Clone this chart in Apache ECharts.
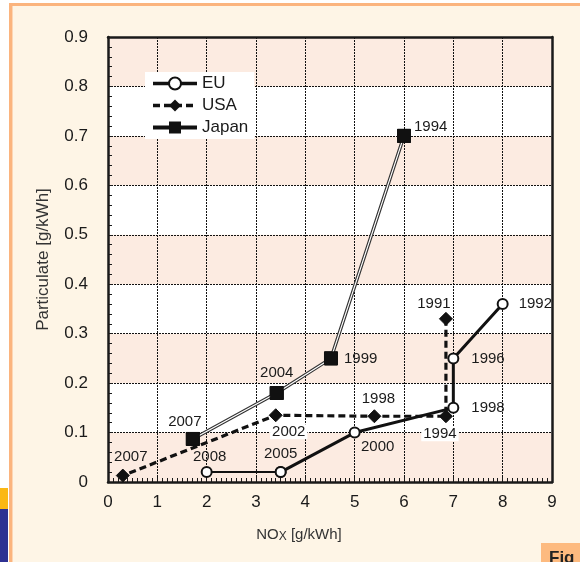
<!DOCTYPE html>
<html>
<head>
<meta charset="utf-8">
<script src="https://cdn.jsdelivr.net/npm/echarts@6/dist/echarts.min.js"></script>
<style>
html,body{margin:0;padding:0;background:#ffffff;}
#chart{width:580px;height:562px;}
</style>
</head>
<body>
<div id="chart"></div>
<script>
// ---- data ----
const euNox = [8, 7, 7, 5, 3.5, 2];
const euPm = [0.36, 0.25, 0.15, 0.10, 0.02, 0.02];
const euYears = ['1992', '1996', '1998', '2000', '2005', '2008'];

const usaNox = [6.85, 6.85, 5.4, 3.4, 0.3];
const usaPm = [0.33, 0.133, 0.133, 0.135, 0.013];
const usaYears = ['1991', '1994', '1998', '2002', '2007'];

const jpNox = [6.0, 4.52, 3.42, 1.72];
const jpPm = [0.70, 0.25, 0.18, 0.087];
const jpYears = ['1994', '1999', '2004', '2007'];

const xTicks = [0, 1, 2, 3, 4, 5, 6, 7, 8, 9];
const yTicks = [0, 0.1, 0.2, 0.3, 0.4, 0.5, 0.6, 0.7, 0.8, 0.9];

// ---- label placement (style only) ----
const euLab = [
  {position: 'right', distance: 10},
  {position: 'right', distance: 12},
  {position: 'right', distance: 12},
  {position: 'bottom', distance: 1, offset: [23, 0]},
  {position: 'top', distance: 5},
  {position: 'top', distance: 2, offset: [3, 0]}
];
const usaLab = [
  {position: 'top', distance: 0, offset: [-12, 0]},
  {position: 'bottom', distance: 3, offset: [-6, 0], backgroundColor: '#ffffff', padding: [0, 2]},
  {position: 'top', distance: 3, offset: [4, 0]},
  {position: 'bottom', distance: 2, offset: [13, 0], backgroundColor: '#ffffff', padding: [0, 2]},
  {position: 'top', distance: 4, offset: [8, 0]}
];
const jpLab = [
  {position: 'right', distance: 3, offset: [0, -9]},
  {position: 'right', distance: 6},
  {position: 'top', distance: 6},
  {position: 'top', distance: 3, offset: [-8, 0]}
];

const FONT = '"Liberation Sans", Arial, sans-serif';
const labelBase = {show: true, fontSize: 15, color: '#1a1a1a', fontFamily: FONT};

function pts(xs, ys, years, labs, from, to, labelIdx) {
  const out = [];
  for (let i = from; i <= to; i++) {
    const lab = Object.assign({}, labelBase, labs[i], {formatter: years[i]});
    if (labelIdx && labelIdx.indexOf(i) < 0) lab.show = false;
    out.push({value: [xs[i], ys[i]], label: lab});
  }
  return out;
}

const chart = echarts.init(document.getElementById('chart'), null, {renderer: 'canvas'});

const gridLine = {show: true, lineStyle: {color: '#111', type: [2, 1], width: 1}};

const option = {
  backgroundColor: '#ffffff',
  animation: false,
  textStyle: {fontFamily: FONT},
  graphic: [
    {type: 'rect', z: -10, shape: {x: 9, y: 3, width: 580, height: 570}, style: {fill: '#fef5e6'}},
    {type: 'rect', z: -9, shape: {x: 9, y: 3, width: 580, height: 3}, style: {fill: '#fbb47e'}},
    {type: 'rect', z: -9, shape: {x: 9, y: 3, width: 3, height: 570}, style: {fill: '#fbb47e'}},
    {type: 'rect', z: -9, shape: {x: 12, y: 6, width: 1, height: 570}, style: {fill: '#fdd6b5'}},
    {type: 'rect', z: -9, shape: {x: 0, y: 488, width: 8, height: 21}, style: {fill: '#fbb814'}},
    {type: 'rect', z: -9, shape: {x: 0, y: 509, width: 8, height: 60}, style: {fill: '#2e3192'}},
    {type: 'rect', z: -9, shape: {x: 541, y: 543, width: 40, height: 20}, style: {fill: '#fdba7f'}},
    {type: 'text', z: -8, left: 549, top: 550, style: {text: 'Fig', fontSize: 17, fontWeight: 'bold', fill: '#222', fontFamily: FONT}}
  ],
  legend: {
    data: [
      {name: 'EU', lineStyle: {width: 3.5}},
      {name: 'USA', lineStyle: {width: 3.5}},
      {name: 'Japan', lineStyle: {width: 4, color: '#111'}}
    ],
    orient: 'vertical',
    left: 145,
    top: 72,
    itemWidth: 44,
    itemHeight: 15,
    itemGap: 5,
    padding: [3, 6, 3, 6],
    backgroundColor: '#ffffff',
    textStyle: {fontSize: 17, color: '#1a1a1a', fontFamily: FONT},
    z: 5
  },
  grid: {left: 108, right: 28, top: 37, bottom: 80, containLabel: false},
  xAxis: [{
    type: 'value', min: xTicks[0], max: xTicks[xTicks.length - 1], interval: 1,
    name: '{a|NO}{s|X}{a| [g/kWh]}',
    nameLocation: 'middle', nameGap: 44,
    nameTextStyle: {padding: [0, 62, 0, 0], rich: {
      a: {fontSize: 15, color: '#333', fontFamily: FONT},
      s: {fontSize: 12, color: '#333', fontFamily: FONT, padding: [5, 0, 0, 0]}
    }},
    axisLine: {show: true, onZero: false, lineStyle: {color: '#1a1a1a', width: 2.5}},
    axisTick: {show: true, inside: true, length: 5, lineStyle: {color: '#1a1a1a'}},
    minorTick: {show: true, splitNumber: 10, length: 4, lineStyle: {color: '#1a1a1a'}},
    axisLabel: {fontSize: 17, color: '#1a1a1a', margin: 12, fontFamily: FONT},
    splitLine: gridLine
  }, {
    type: 'value', position: 'top', min: 0, max: 9, interval: 1,
    axisLine: {show: true, onZero: false, lineStyle: {color: '#1a1a1a', width: 2.5}},
    axisTick: {show: false}, axisLabel: {show: false}, splitLine: {show: false}
  }],
  yAxis: [{
    type: 'value', min: yTicks[0], max: yTicks[yTicks.length - 1], interval: 0.1,
    name: 'Particulate [g/kWh]',
    nameLocation: 'middle', nameGap: 56,
    nameTextStyle: {fontSize: 17, color: '#333', fontFamily: FONT},
    axisLine: {show: true, onZero: false, lineStyle: {color: '#1a1a1a', width: 2.5}},
    axisTick: {show: true, inside: true, length: 5, lineStyle: {color: '#1a1a1a'}},
    minorTick: {show: true, splitNumber: 5, length: 4, lineStyle: {color: '#1a1a1a'}},
    axisLabel: {fontSize: 17, color: '#1a1a1a', margin: 20, fontFamily: FONT,
      formatter: v => (Math.round(v * 10) / 10).toString()},
    splitLine: gridLine,
    splitArea: {show: true, areaStyle: {color: ['#fcebe1', '#ffffff']}}
  }, {
    type: 'value', position: 'right', min: 0, max: 0.9, interval: 0.1,
    axisLine: {show: true, onZero: false, lineStyle: {color: '#1a1a1a', width: 2.5}},
    axisTick: {show: false}, axisLabel: {show: false}, splitLine: {show: false}
  }],
  series: [
    {
      name: 'Japan', type: 'line', z: 3,
      data: pts(jpNox, jpPm, jpYears, jpLab, 0, 3, []),
      lineStyle: {color: '#333', width: 3.4},
      symbol: 'rect', symbolSize: 13,
      itemStyle: {color: '#111', borderColor: '#111'},
      label: {show: false}
    },
    {
      name: 'jpInner', type: 'line', z: 4, silent: true,
      data: jpNox.map((x, i) => [x, jpPm[i]]),
      lineStyle: {color: '#ffffff', width: 1.2},
      symbol: 'none'
    },
    {
      name: 'jpPts', type: 'line', z: 5,
      data: pts(jpNox, jpPm, jpYears, jpLab, 0, 3),
      lineStyle: {width: 0, opacity: 0},
      symbol: 'rect', symbolSize: 13, showAllSymbol: true,
      itemStyle: {color: '#111', borderColor: '#111'}
    },
    {
      name: 'USA', type: 'line', z: 6,
      data: pts(usaNox, usaPm, usaYears, usaLab, 0, 4),
      lineStyle: {color: '#111', width: 3.2, type: [7, 4]},
      symbol: 'diamond', symbolSize: 13, showAllSymbol: true,
      itemStyle: {color: '#111', borderColor: '#111'}
    },
    {
      name: 'EU', type: 'line', z: 7,
      data: pts(euNox, euPm, euYears, euLab, 0, 4),
      lineStyle: {color: '#111', width: 3},
      symbol: 'circle', symbolSize: 10, showAllSymbol: true,
      itemStyle: {color: '#ffffff', borderColor: '#111', borderWidth: 2}
    },
    {
      name: 'euOld', type: 'line', z: 7,
      data: pts(euNox, euPm, euYears, euLab, 4, 5, [5]),
      lineStyle: {color: '#111', width: 2},
      symbol: 'circle', symbolSize: 10, showAllSymbol: true,
      itemStyle: {color: '#ffffff', borderColor: '#111', borderWidth: 2}
    }
  ]
};
chart.setOption(option);
</script>
</body>
</html>
